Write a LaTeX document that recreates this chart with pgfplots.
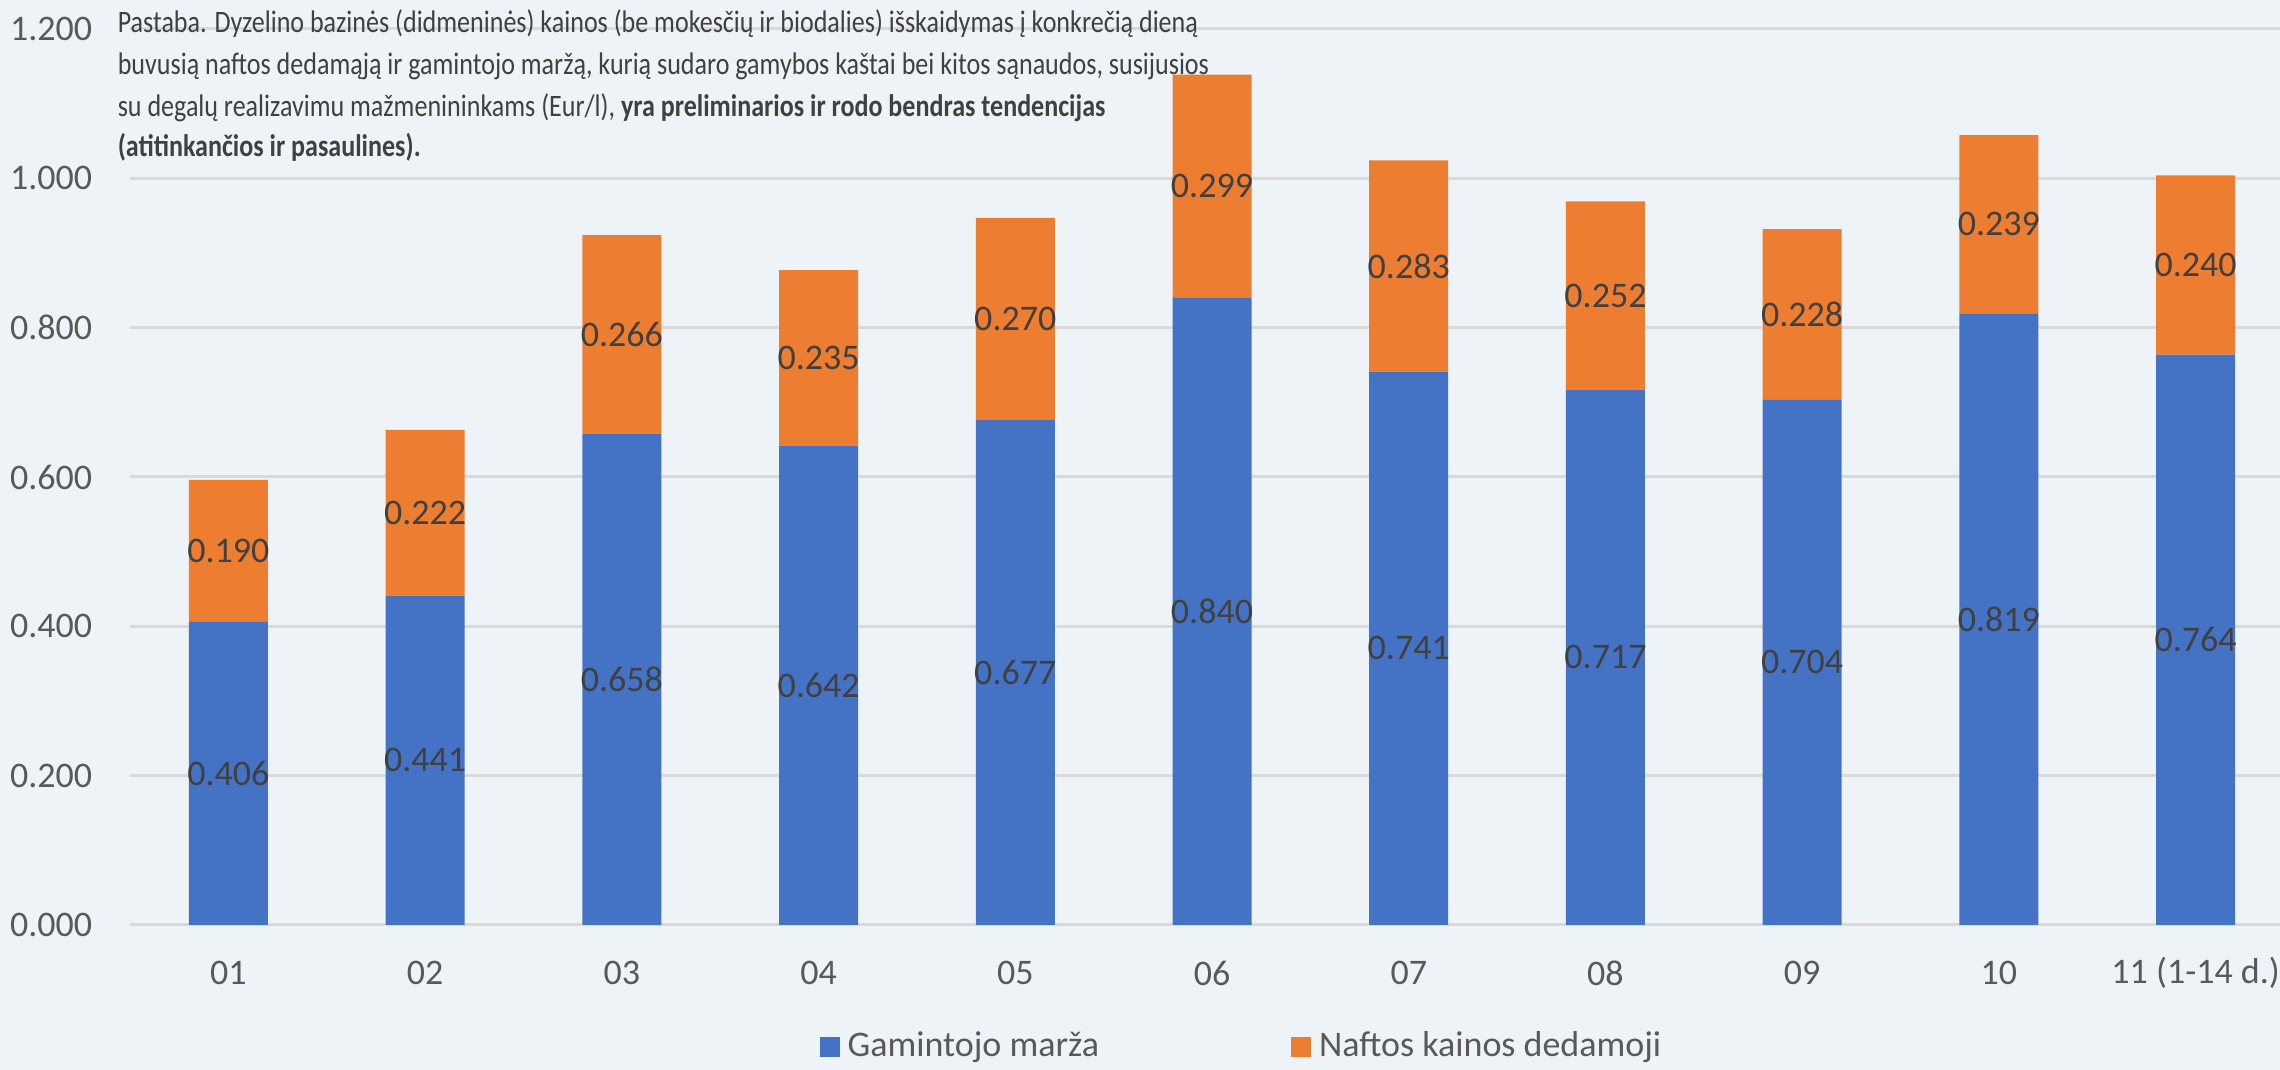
\documentclass[border=0pt]{standalone}
\usepackage{pgfplots}
\usepackage{pgfplotstable}
\pgfplotsset{compat=1.18}
\usepackage{fontspec}
\setmainfont{Carlito}
\newfontfamily\notefont[FakeStretch=0.835]{Carlito}
\definecolor{cblue}{HTML}{4472C4}
\definecolor{corange}{HTML}{ED7D31}
\definecolor{bgc}{HTML}{EEF3F7}
\definecolor{gridc}{HTML}{D9D9D9}
\definecolor{tickc}{HTML}{595959}
\definecolor{labc}{HTML}{404040}
\pgfplotstableread{
x b o
0 0.406 0.190
1 0.441 0.222
2 0.658 0.266
3 0.642 0.235
4 0.677 0.270
5 0.840 0.299
6 0.741 0.283
7 0.717 0.252
8 0.704 0.228
9 0.819 0.239
10 0.764 0.240
}\data
\pgfplotsset{common/.style={
  at={(32.5pt,36.25pt)}, anchor=south west,
  scale only axis, width=541pt, height=224pt,
  xmin=-0.5, xmax=10.5, ymin=0, ymax=1.2}}
\begin{document}
\begin{tikzpicture}
\fill[bgc] (0,0) rectangle (570pt,267.5pt);
\begin{axis}[
  common,
  ybar stacked, bar width=19.75pt,
  xtick={0,...,10},
  xticklabels={01,02,03,04,05,06,07,08,09,10,{11 (1-14 d.)}},
  ytick={0,0.2,0.4,0.6,0.8,1.0,1.2},
  major tick length=0pt,
  axis line style={draw=none},
  ymajorgrids, grid style={gridc, line width=0.75pt},
  /pgf/number format/assume math mode=true,
  yticklabel={\pgfmathprintnumber[fixed,fixed zerofill,precision=3]{\tick}},
  yticklabel style={font=\fontsize{9}{10}\selectfont, text=tickc, anchor=east, inner sep=0pt, xshift=-9.25pt},
  xticklabel style={font=\fontsize{9}{10}\selectfont, text=tickc, anchor=center, yshift=-12pt},
  legend style={at={(axis description cs:0.515,-0.136)}, anchor=center, draw=none, fill=none,
    font=\fontsize{9}{10}\selectfont, text=tickc, legend columns=2,
    /tikz/every even column/.append style={column sep=46pt}},
  legend image code/.code={\fill[#1] (0pt,-2.5pt) rectangle (5pt,2.5pt);},
]
\addplot[fill=cblue, draw=none] table[x=x, y=b] {\data};
\addlegendentry{Gamintojo marža}
\addplot[fill=corange, draw=none] table[x=x, y=o] {\data};
\addlegendentry{Naftos kainos dedamoji}
\end{axis}
\begin{axis}[
  common, hide axis,
  /pgf/number format/assume math mode=true,
  every node near coord/.append style={font=\fontsize{9}{10}\selectfont, text=labc, anchor=center},
  point meta=explicit,
]
\addplot[draw=none, mark=none, nodes near coords={\pgfmathprintnumber[fixed,fixed zerofill,precision=3]{\pgfplotspointmeta}}] table[x=x, y expr=\thisrow{b}/2, meta=b] {\data};
\addplot[draw=none, mark=none, nodes near coords={\pgfmathprintnumber[fixed,fixed zerofill,precision=3]{\pgfplotspointmeta}}] table[x=x, y expr=\thisrow{b}+\thisrow{o}/2, meta=o] {\data};
\end{axis}
\begin{scope}[every node/.style={anchor=base west, inner sep=0pt, text=labc, font=\notefont\fontsize{7.8}{8}\selectfont}]
\node at (29.25pt,259.25pt) {Pastaba. Dyzelino bazinės (didmeninės) kainos (be mokesčių ir biodalies) išskaidymas į konkrečią dieną};
\node at (29.25pt,248.75pt) {buvusią naftos dedamąją ir gamintojo maržą, kurią sudaro gamybos kaštai bei kitos sąnaudos, susijusios};
\node at (29.25pt,238.25pt) {su degalų realizavimu mažmenininkams (Eur/l), \textbf{yra preliminarios ir rodo bendras tendencijas}};
\node at (29.25pt,228.25pt) {\textbf{(atitinkančios ir pasaulines).}};
\end{scope}
\pgfresetboundingbox
\path[use as bounding box] (0,0) rectangle (570pt,267.5pt);
\end{tikzpicture}
\end{document}
